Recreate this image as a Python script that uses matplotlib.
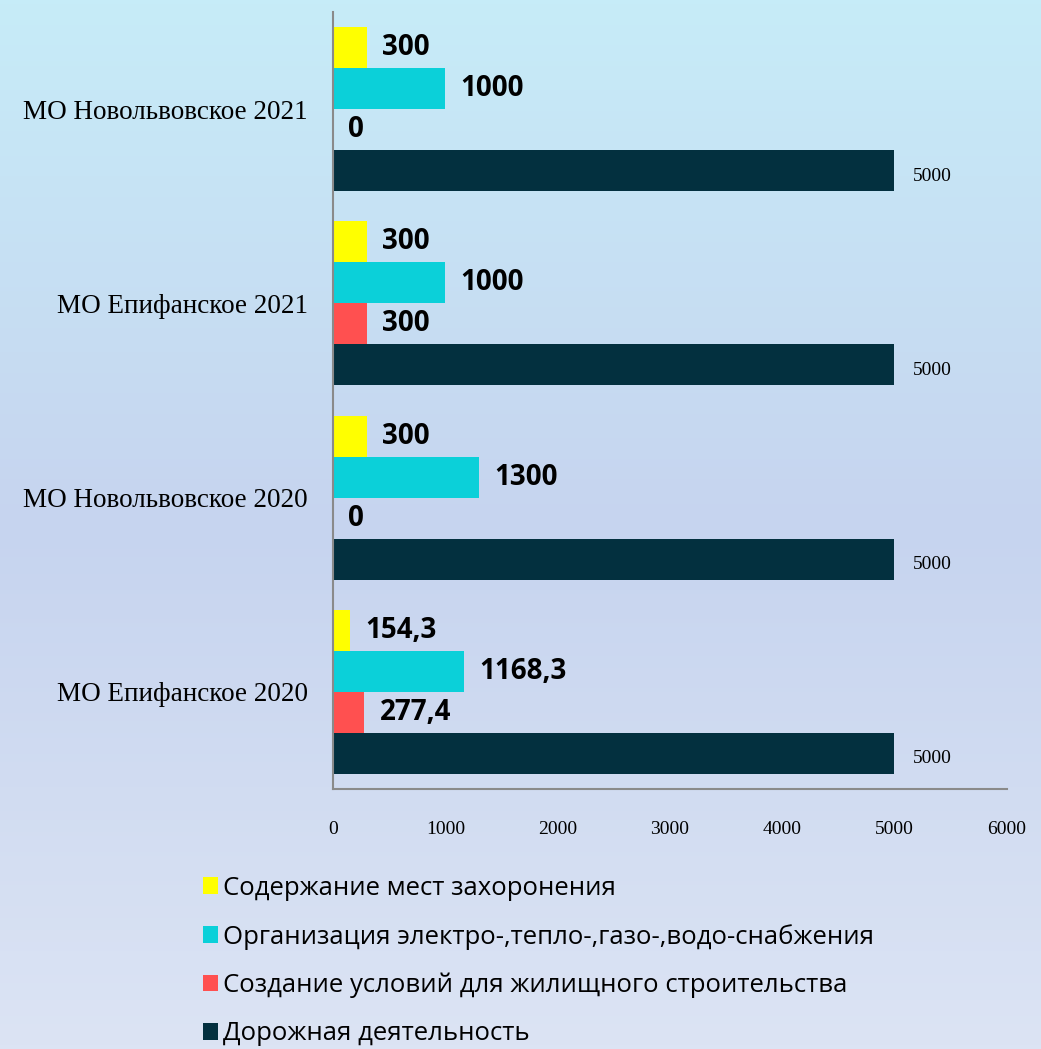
import numpy as np
import matplotlib
matplotlib.use("Agg")
import matplotlib.pyplot as plt
from matplotlib.colors import LinearSegmentedColormap

# data (bottom-up order on the chart)
categories = ["МО Епифанское 2020", "МО Новольвовское 2020",
              "МО Епифанское 2021", "МО Новольвовское 2021"]
series_names = ["Содержание мест захоронения",
                "Организация электро-,тепло-,газо-,водо-снабжения",
                "Создание условий для жилищного строительства",
                "Дорожная деятельность"]
burial = [154.3, 300, 300, 300]
utilities = [1168.3, 1300, 1000, 1000]
housing = [277.4, 0, 300, 0]
roads = [5000, 5000, 5000, 5000]
xticks = [0, 1000, 2000, 3000, 4000, 5000, 6000]

colors = ["#ffff00", "#0bd0d9", "#ff5050", "#03303f"]

fig = plt.figure(figsize=(10.41, 10.49), dpi=100)

# background gradient
bg = fig.add_axes([0, 0, 1, 1], zorder=-10)
cmap = LinearSegmentedColormap.from_list("bg", ["#c6ecf8", "#c6d4ef", "#dce4f4"])
grad = np.linspace(0, 1, 256).reshape(-1, 1)
bg.imshow(grad, aspect="auto", cmap=cmap, extent=[0, 1, 0, 1])
bg.axis("off")

ax = fig.add_axes([0.32, 0.2479, 0.647, 0.7407])
ax.patch.set_alpha(0)

h = 0.211
y = np.arange(len(categories))
all_series = [burial, utilities, housing, roads]
offsets = [1.5 * h, 0.5 * h, -0.5 * h, -1.5 * h]

def fmt(v):
    s = ("%.1f" % v).rstrip("0").rstrip(".")
    return s.replace(".", ",")

for i, vals in enumerate(all_series):
    bars = ax.barh(y + offsets[i], vals, height=h, color=colors[i], label=series_names[i])
    for b, v in zip(bars, vals):
        yc = b.get_y() + b.get_height() / 2
        if i < 3:
            ax.annotate(fmt(v), (v, yc), xytext=(11, 0), textcoords="offset points",
                        va="center", ha="left", fontsize=20, fontweight="bold",
                        family="Open Sans", color="black")
        else:
            ax.annotate(fmt(v), (v, yc), xytext=(13, -4), textcoords="offset points",
                        va="center", ha="left", fontsize=14,
                        family="Liberation Serif", color="black")

ax.set_xlim(0, 6000)
ax.set_ylim(-0.5, 3.5)
ax.set_xticks(xticks)
ax.set_xticklabels([str(t) for t in xticks], family="Liberation Serif", fontsize=14)
ax.set_yticks(y)
ax.set_yticklabels(categories, family="Liberation Serif", fontsize=19.5)
ax.tick_params(axis="both", length=0)
ax.tick_params(axis="x", pad=23)
ax.tick_params(axis="y", pad=18)
for s in ["top", "right"]:
    ax.spines[s].set_visible(False)
for s in ["left", "bottom"]:
    ax.spines[s].set_color("#8a8a8a")
    ax.spines[s].set_linewidth(1.5)

handles, labels = ax.get_legend_handles_labels()
leg = fig.legend(handles, labels, loc="upper left", bbox_to_anchor=(0.185, 0.175),
                 frameon=False, prop={"family": "Open Sans", "size": 18.5},
                 handlelength=0.6, handleheight=0.6, handletextpad=0.2,
                 labelspacing=0.9, borderaxespad=0)

fig.savefig("out.png", dpi=100)
